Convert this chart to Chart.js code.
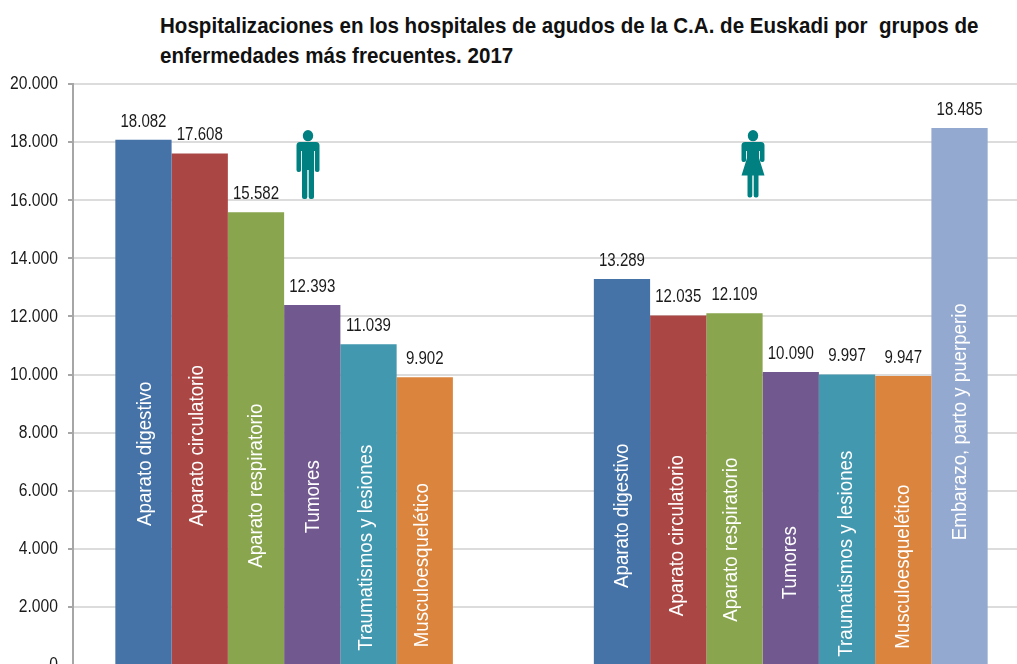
<!DOCTYPE html>
<html lang="es">
<head>
    <meta charset="UTF-8">
    <title>Hospitalizaciones por grupos de enfermedades 2017</title>
    <script src="https://cdn.jsdelivr.net/npm/chart.js@4"></script>
    <style>
        html, body { margin: 0; padding: 0; background: #fff; overflow: hidden; }
        .wrap { position: relative; width: 1040px; height: 700px; }
        canvas { position: absolute; left: 0; top: 0; }
        h1 {
            position: absolute; left: 160px; top: 11px; margin: 0;
            font: bold 22px/30px "Liberation Sans", Arial, sans-serif;
            color: #111; white-space: pre; transform: scaleX(0.935); transform-origin: left top;
        }
    </style>
</head>
<body>
<div class="wrap">
    <h1 id="title">Hospitalizaciones en los hospitales de agudos de la C.A. de Euskadi por  grupos de
enfermedades más frecuentes. 2017</h1>
    <canvas id="chart" width="1040" height="700"></canvas>
</div>
<script>
    const categories = ['Hombres', 'Mujeres'];
    const seriesNames = ['Aparato digestivo', 'Aparato circulatorio', 'Aparato respiratorio', 'Tumores',
        'Traumatismos y lesiones', 'Musculoesquelético', 'Embarazo, parto y puerperio'];

    const digestivo = [18082, 13289];
    const circulatorio = [17608, 12035];
    const respiratorio = [15582, 12109];
    const tumores = [12393, 10090];
    const traumatismos = [11039, 9997];
    const musculo = [9902, 9947];
    const embarazo = [null, 18485];

    const seriesColors = ['#4572a7', '#aa4643', '#89a54e', '#71588f', '#4198af', '#db843d', '#93a9cf'];

    // where the names sit inside the bars, in axis units (they were placed by hand in the original)
    const nameCentres = [
        [7274, 5139], [7549, 4451], [6172, 4313], [5793, 3522], [4037, 3831], [3435, 3384], [null, 8375]
    ];
    const nameNudge = [[2, 0], [-3, -1], [0, -3], [1, -1], [-2, -1], [-3, 0], [0, 1]];

    const fontFamily = '"Liberation Sans", Arial, sans-serif';
    const fmt = v => String(v).replace(/\B(?=(\d{3})+$)/g, '.');

    // the original text is narrower than Liberation Sans, so squeeze it along the baseline
    function squeezedText(ctx, text, x, y, size, squeeze, align, angle) {
        ctx.save();
        ctx.translate(x, y);
        if (angle) ctx.rotate(angle);
        ctx.scale(squeeze, 1);
        ctx.font = size + 'px ' + fontFamily;
        ctx.textAlign = align;
        ctx.textBaseline = 'middle';
        ctx.fillText(text, 0, 0);
        ctx.restore();
    }

    const barText = {
        id: 'barText',
        afterDatasetsDraw(chart) {
            const ctx = chart.ctx;
            const yScale = chart.scales.y;
            chart.data.datasets.forEach((ds, i) => {
                chart.getDatasetMeta(i).data.forEach((bar, j) => {
                    if (ds.data[j] === null) return;
                    ctx.fillStyle = '#1a1a1a';
                    squeezedText(ctx, fmt(ds.data[j]), bar.x, bar.y - 18, 17.5, 0.86, 'center');
                    ctx.fillStyle = '#ffffff';
                    squeezedText(ctx, ds.label, bar.x + nameNudge[i][j], yScale.getPixelForValue(nameCentres[i][j]),
                        21, 0.89, 'center', -Math.PI / 2);
                });
            });
        }
    };

    const axisText = {
        id: 'axisText',
        afterDraw(chart) {
            const yScale = chart.scales.y;
            chart.ctx.fillStyle = '#1a1a1a';
            yScale.ticks.forEach((t, i) => {
                squeezedText(chart.ctx, fmt(t.value), 58, yScale.getPixelForTick(i) + 0.5, 17.5, 0.895, 'right');
            });
        }
    };

    // little man and woman pictograms
    function drawPerson(ctx, cx, woman) {
        ctx.save();
        ctx.translate(cx, 0);
        ctx.fillStyle = '#008080';
        ctx.beginPath();
        ctx.ellipse(0, 135.7, 5.2, 5.6, 0, 0, Math.PI * 2);
        ctx.fill();
        // shoulders and arms
        const armEnd = woman ? 162 : 172;
        ctx.beginPath();
        ctx.roundRect(-11.5, 142, 23, 9, 3.5);
        ctx.roundRect(-11.5, 144, 4.6, armEnd - 144, 2);
        ctx.roundRect(6.9, 144, 4.6, armEnd - 144, 2);
        ctx.fill();
        if (woman) {
            ctx.beginPath();
            ctx.moveTo(-6, 142);
            ctx.lineTo(6, 142);
            ctx.lineTo(6, 158);
            ctx.lineTo(11.5, 175.5);
            ctx.lineTo(-11.5, 175.5);
            ctx.lineTo(-6, 158);
            ctx.closePath();
            ctx.fill();
            ctx.beginPath();
            ctx.roundRect(-5.5, 170, 4.8, 27.5, 2);
            ctx.roundRect(0.7, 170, 4.8, 27.5, 2);
            ctx.fill();
        } else {
            ctx.fillRect(-6, 142, 12, 28);
            ctx.beginPath();
            ctx.roundRect(-6, 165, 5.3, 34, 2);
            ctx.roundRect(0.7, 165, 5.3, 34, 2);
            ctx.fill();
        }
        ctx.restore();
    }

    const people = {
        id: 'people',
        afterDraw(chart) {
            drawPerson(chart.ctx, 308, false);
            drawPerson(chart.ctx, 753, true);
        }
    };

    const values = [digestivo, circulatorio, respiratorio, tumores, traumatismos, musculo, embarazo];

    new Chart(document.getElementById('chart'), {
        type: 'bar',
        data: {
            labels: categories,
            datasets: seriesNames.map((name, i) => ({
                label: name,
                data: values[i],
                backgroundColor: seriesColors[i],
                categoryPercentage: 0.823,
                barPercentage: 1
            }))
        },
        plugins: [barText, axisText, people],
        options: {
            responsive: false,
            animation: false,
            layout: { padding: { top: 84, right: 10, bottom: 35, left: 0 } },
            plugins: { legend: { display: false }, tooltip: { enabled: false } },
            scales: {
                x: { display: false },
                y: {
                    min: 0,
                    max: 20000,
                    afterFit(scale) { scale.width = 73; },
                    border: { color: '#a6a6a6', width: 2 },
                    grid: { color: '#dcdcdc', lineWidth: 2, tickLength: 5, tickColor: '#a6a6a6' },
                    ticks: { stepSize: 2000, color: 'rgba(0,0,0,0)', padding: 10, font: { family: fontFamily, size: 16 } }
                }
            }
        }
    });
</script>
</body>
</html>
